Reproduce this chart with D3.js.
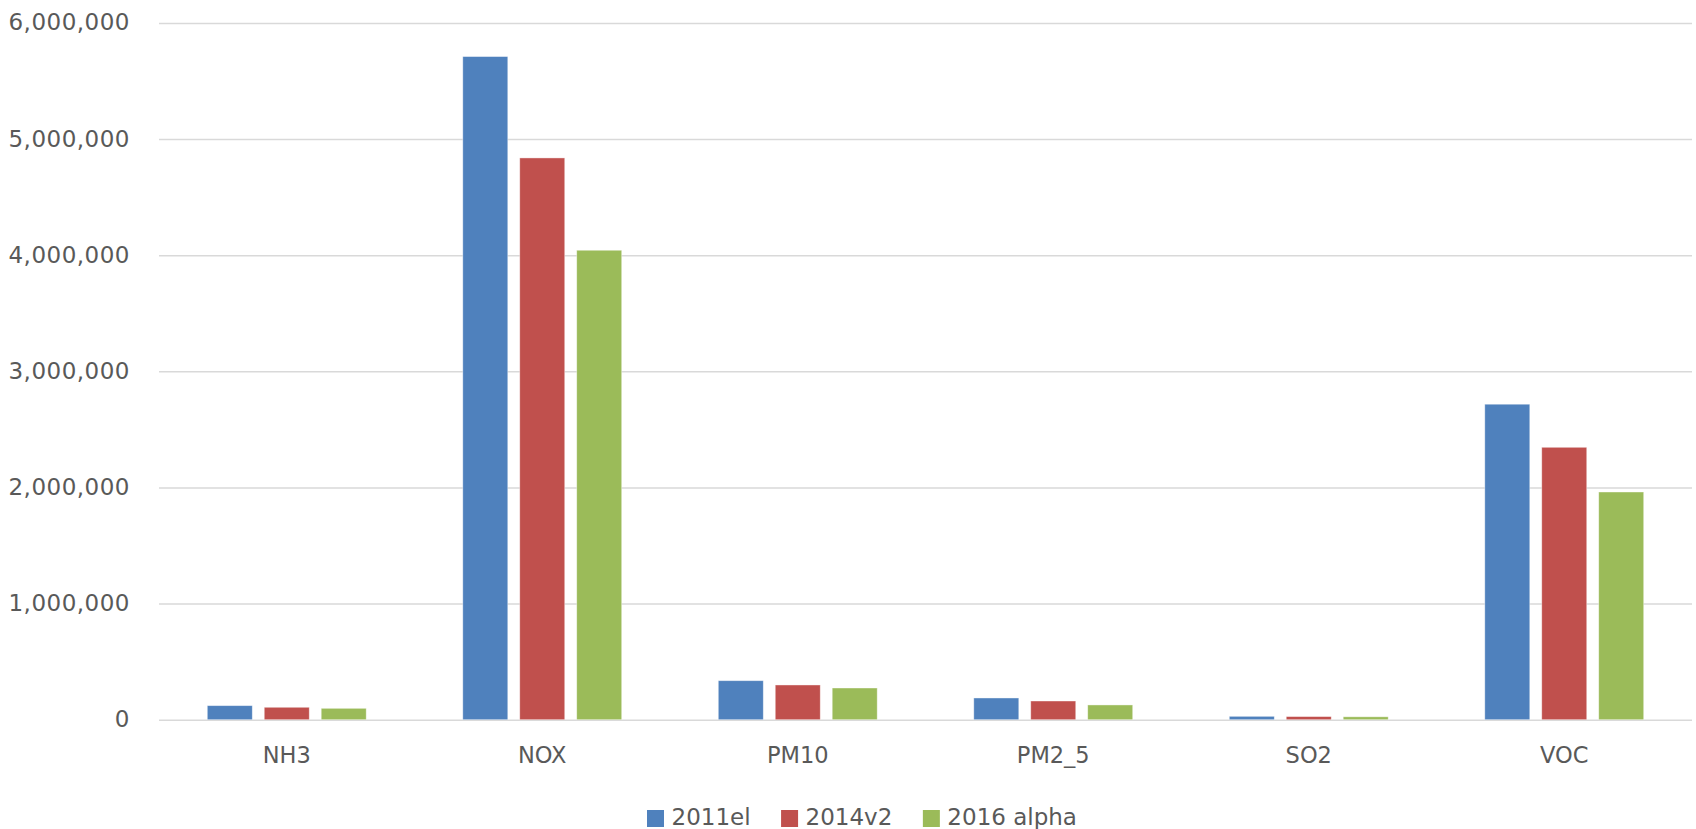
<!DOCTYPE html>
<html>
<head>
<meta charset="utf-8">
<script src="https://cdn.jsdelivr.net/npm/d3@7"></script>
<style>
  html, body { margin: 0; padding: 0; background: #fff; }
  svg { display: block; }
</style>
</head>
<body>
<svg id="chart" width="1696" height="829"></svg>
<script>
// Emissions totals by pollutant, per inventory
const pollutants = ["NH3", "NOX", "PM10", "PM2_5", "SO2", "VOC"];
const seriesNames = ["2011el", "2014v2", "2016 alpha"];
const values2011el = [121000, 5711000, 336000, 187000, 29000, 2717000];
const values2014v2 = [107000, 4838000, 299000, 161000, 27000, 2346000];
const values2016alpha = [98000, 4043000, 273000, 127000, 25000, 1961000];
const yTicks = [0, 1000000, 2000000, 3000000, 4000000, 5000000, 6000000];
const colors = ["#4F81BD", "#C0504D", "#9BBB59"];

const FONT = "'DejaVu Sans', Verdana, sans-serif";
const TEXT_COLOR = "#595959";

const seriesValues = [values2011el, values2014v2, values2016alpha];
const rows = pollutants.map((p, i) => ({
  pollutant: p,
  vals: seriesNames.map((s, j) => ({ series: s, value: seriesValues[j][i] }))
}));

const svg = d3.select("#chart");
const plot = { left: 159, right: 1692, top: 23, bottom: 719.7 };

const x0 = d3.scaleBand()
  .domain(pollutants)
  .range([plot.left, plot.right])
  .paddingInner(0.378)
  .paddingOuter(0.189);

const x1 = d3.scaleBand()
  .domain(seriesNames)
  .range([0, x0.bandwidth()])
  .paddingInner(0.21);

const y = d3.scaleLinear()
  .domain([0, 6000000])
  .range([plot.bottom, plot.top]);

const color = d3.scaleOrdinal().domain(seriesNames).range(colors);
const fmt = d3.format(",");

// Horizontal gridlines with tick labels
const yAxis = svg.append("g")
  .attr("transform", `translate(${plot.left},0)`)
  .call(d3.axisLeft(y).tickValues(yTicks).tickFormat(fmt)
    .tickSize(-(plot.right - plot.left)).tickPadding(29));
yAxis.attr("font-family", FONT).attr("font-size", 23);
yAxis.select(".domain").remove();
yAxis.selectAll(".tick line")
  .attr("stroke", "#d9d9d9")
  .attr("stroke-width", 1.5);
yAxis.selectAll(".tick text")
  .attr("fill", TEXT_COLOR)
  .attr("letter-spacing", 0.5)
  .attr("dy", "0.3em");

// Bars
const groups = svg.append("g")
  .selectAll("g")
  .data(rows)
  .join("g")
  .attr("transform", d => `translate(${x0(d.pollutant)},0)`);

groups.selectAll("rect")
  .data(d => d.vals)
  .join("rect")
  .attr("x", d => x1(d.series))
  .attr("y", d => y(d.value))
  .attr("width", x1.bandwidth())
  .attr("height", d => y(0) - y(d.value))
  .attr("fill", d => color(d.series))
  .attr("stroke", "#ffffff")
  .attr("stroke-opacity", 0.5)
  .attr("stroke-width", 0.8);

// Category axis labels
const xAxis = svg.append("g")
  .attr("transform", `translate(0,${plot.bottom})`)
  .call(d3.axisBottom(x0).tickSize(0).tickPadding(27));
xAxis.attr("font-family", FONT).attr("font-size", 22.5);
xAxis.select(".domain").remove();
xAxis.selectAll(".tick text")
  .attr("fill", TEXT_COLOR);

// Legend
const legend = svg.append("g")
  .attr("transform", "translate(647,810)")
  .attr("font-family", FONT)
  .attr("font-size", 23);
let lx = 0;
seriesNames.forEach(name => {
  const item = legend.append("g").attr("transform", `translate(${lx},0)`);
  item.append("rect")
    .attr("width", 17).attr("height", 17)
    .attr("fill", color(name));
  const t = item.append("text")
    .attr("x", 24.5).attr("y", 14.5)
    .attr("fill", TEXT_COLOR)
    .text(name);
  lx += 24.5 + t.node().getComputedTextLength() + 30.5;
});
</script>
</body>
</html>
